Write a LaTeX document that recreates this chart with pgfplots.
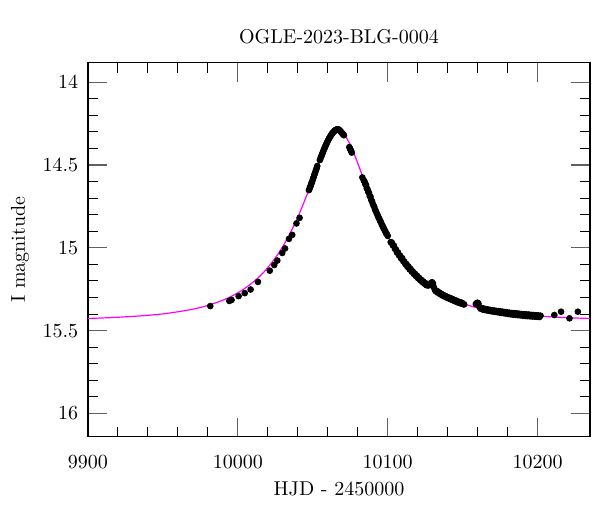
\documentclass[border=0pt]{standalone}
\usepackage{pgfplots}
\pgfplotsset{compat=1.18}
\definecolor{curvemag}{RGB}{255,0,255}
\begin{document}
\begin{tikzpicture}
\path[use as bounding box] (-44pt,-37.65pt) rectangle (256pt,218.35pt);
\begin{axis}[
  scale only axis, width=251pt, height=187pt,
  xmin=9900, xmax=10235, ymin=13.882, ymax=16.141, y dir=reverse,
  xtick={9900,10000,10100,10200}, minor x tick num=4,
  ytick={14,14.5,15,15.5,16}, minor y tick num=4,
  tick align=inside,
  major tick length=9.5pt, minor tick length=5pt,
  major tick style={gray!75!black, line width=0.6pt},
  minor tick style={black, line width=0.5pt},
  axis line style={line width=0.8pt},
  scaled x ticks=false, scaled y ticks=false,
  /pgf/number format/1000 sep={},
  xticklabel style={yshift=-5.8pt},
  yticklabel style={xshift=-1.4pt},
  every axis title shift=0pt,
  title={OGLE-2023-BLG-0004},
  title style={at={(axis description cs:0.5,1.05)}, anchor=base},
  xlabel={HJD - 2450000},
  xlabel style={at={(axis description cs:0.5,-0.1583)}, anchor=base},
  ylabel={I magnitude},
  ylabel style={at={(axis description cs:-0.1355,0.5)}, anchor=center},
]
\addplot[only marks, mark=*, mark size=1.45pt, black,
  error bars/.cd, y dir=both, y fixed=0.01, error bar style={black, line width=0.6pt}, error mark=none] table {
t m
9981.6 15.352
9994.3 15.321
9995.8 15.315
10000.5 15.292
10004.6 15.274
10008.5 15.252
10013.4 15.206
10021.3 15.138
10024.3 15.104
10026.3 15.077
10029.6 15.031
10031.5 15.004
10034.1 14.946
10036.3 14.922
10039.1 14.853
10041.2 14.819
10047.4 14.652
10047.8 14.645
10048.2 14.632
10048.6 14.626
10049.0 14.612
10049.4 14.606
10049.8 14.594
10050.2 14.582
10050.6 14.573
10051.0 14.560
10051.4 14.552
10051.8 14.540
10052.2 14.528
10052.6 14.520
10053.0 14.506
10054.7 14.470
10055.1 14.462
10055.5 14.450
10055.9 14.445
10056.3 14.432
10056.7 14.425
10057.1 14.414
10057.5 14.405
10057.9 14.398
10058.3 14.388
10058.7 14.380
10059.1 14.373
10059.5 14.364
10059.9 14.356
10060.3 14.350
10060.7 14.342
10061.1 14.336
10061.5 14.330
10061.9 14.324
10062.3 14.318
10062.7 14.312
10063.1 14.308
10063.5 14.303
10063.9 14.300
10064.3 14.296
10064.7 14.292
10065.1 14.290
10065.5 14.287
10065.9 14.286
10066.3 14.285
10066.7 14.284
10067.1 14.285
10067.5 14.288
10067.9 14.290
10068.3 14.294
10068.7 14.298
10069.1 14.303
10069.5 14.307
10069.9 14.311
10070.3 14.316
10070.8 14.320
10074.4 14.392
10074.8 14.400
10075.2 14.408
10075.6 14.415
10076.0 14.425
10083.1 14.575
10084.0 14.594
10084.5 14.598
10085.0 14.615
10085.5 14.620
10086.0 14.640
10086.5 14.645
10087.0 14.662
10087.5 14.668
10088.0 14.688
10088.5 14.690
10089.0 14.710
10089.5 14.718
10090.0 14.733
10090.5 14.745
10091.0 14.752
10091.5 14.768
10092.0 14.776
10092.5 14.788
10093.0 14.797
10093.5 14.808
10094.0 14.820
10094.5 14.826
10095.0 14.840
10095.5 14.845
10096.0 14.860
10096.5 14.865
10097.0 14.877
10097.5 14.885
10098.0 14.895
10098.5 14.902
10099.0 14.913
10099.5 14.918
10100.0 14.928
10102.0 14.966
10102.7 14.968
10103.4 14.985
10104.1 14.986
10104.8 15.006
10105.5 15.010
10106.2 15.029
10106.9 15.028
10107.6 15.046
10108.3 15.048
10109.0 15.065
10109.7 15.063
10110.4 15.081
10111.1 15.083
10111.8 15.099
10112.5 15.098
10113.2 15.115
10113.9 15.113
10114.6 15.130
10115.3 15.128
10116.0 15.144
10116.7 15.143
10117.4 15.158
10118.1 15.156
10118.8 15.171
10119.5 15.168
10120.2 15.183
10120.9 15.181
10121.6 15.195
10122.3 15.193
10123.0 15.206
10123.7 15.203
10124.4 15.216
10125.1 15.213
10125.8 15.226
10127.0 15.228
10128.0 15.222
10129.0 15.212
10129.6 15.208
10130.2 15.216
10130.8 15.238
10131.5 15.255
10132.2 15.264
10132.9 15.261
10133.6 15.272
10134.3 15.269
10135.0 15.280
10135.7 15.277
10136.4 15.288
10137.1 15.285
10137.8 15.294
10138.5 15.291
10139.2 15.300
10139.9 15.297
10140.6 15.306
10141.3 15.302
10142.0 15.311
10142.7 15.307
10143.4 15.317
10144.1 15.313
10144.8 15.322
10145.5 15.318
10146.2 15.328
10146.9 15.324
10147.6 15.333
10148.3 15.328
10149.0 15.337
10149.7 15.333
10150.4 15.341
10151.0 15.342
10158.8 15.340
10159.4 15.334
10160.0 15.332
10160.6 15.338
10161.3 15.358
10162.0 15.368
10162.7 15.364
10163.4 15.373
10164.1 15.367
10164.8 15.376
10165.5 15.370
10166.2 15.378
10166.9 15.373
10167.6 15.381
10168.3 15.375
10169.0 15.383
10169.7 15.377
10170.4 15.385
10171.1 15.379
10171.8 15.387
10172.5 15.381
10173.2 15.389
10173.9 15.383
10174.6 15.391
10175.3 15.384
10176.0 15.393
10176.7 15.386
10177.4 15.395
10178.1 15.388
10178.8 15.397
10179.5 15.389
10180.5 15.400
10181.3 15.392
10182.1 15.402
10182.9 15.394
10183.7 15.404
10184.5 15.395
10185.3 15.405
10186.1 15.396
10186.9 15.407
10187.7 15.398
10188.5 15.408
10189.3 15.400
10190.1 15.410
10190.9 15.401
10191.7 15.412
10192.5 15.402
10193.3 15.413
10194.1 15.403
10194.9 15.414
10195.7 15.405
10196.5 15.415
10197.3 15.406
10198.1 15.416
10198.9 15.407
10199.7 15.417
10200.5 15.408
10201.3 15.418
10202.0 15.410
10211.2 15.406
10215.7 15.386
10221.3 15.426
10226.9 15.386
};
\addplot[curvemag, line width=0.6pt, smooth] table {
t m
9900 15.427
9917 15.421
9937 15.410
9952 15.397
9967 15.376
9977 15.356
9987 15.327
9992 15.309
9997 15.287
10002 15.261
10007 15.230
10012 15.194
10017 15.150
10022 15.097
10027 15.035
10032 14.961
10037 14.874
10042 14.773
10047 14.659
10049 14.612
10051 14.562
10053 14.513
10055 14.465
10057 14.419
10059 14.378
10061 14.343
10063 14.316
10065 14.299
10067 14.293
10069 14.299
10071 14.316
10073 14.343
10075 14.378
10077 14.419
10079 14.465
10081 14.513
10083 14.562
10085 14.612
10087 14.659
10092 14.773
10097 14.874
10102 14.961
10107 15.035
10112 15.097
10117 15.150
10122 15.194
10127 15.230
10132 15.261
10137 15.287
10142 15.309
10147 15.327
10157 15.356
10167 15.376
10182 15.397
10197 15.410
10217 15.421
10235 15.427
};
\end{axis}
\end{tikzpicture}
\end{document}
